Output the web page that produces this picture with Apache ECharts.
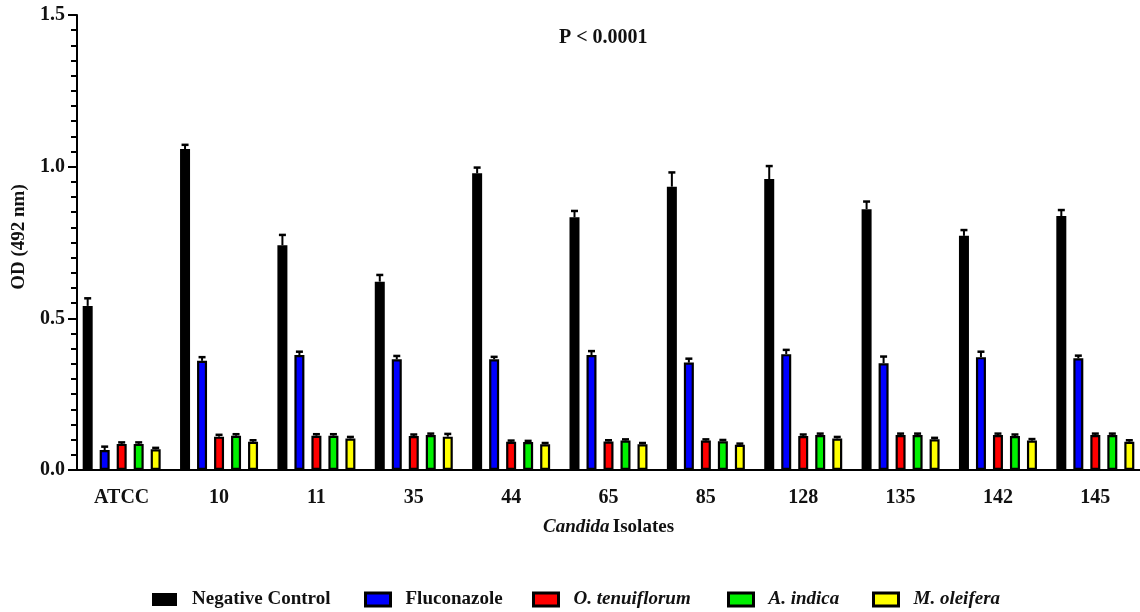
<!DOCTYPE html>
<html>
<head>
<meta charset="utf-8">
<script src="https://cdn.jsdelivr.net/npm/echarts@6/dist/echarts.min.js"></script>
<style>
  html, body { margin: 0; padding: 0; background: #fff; }
  #chart { width: 1140px; height: 612px; }
</style>
</head>
<body>
<div id="chart"></div>
<script>
// Candida isolates tested
const categories = ['ATCC', '10', '11', '35', '44', '65', '85', '128', '135', '142', '145'];

// Mean OD (492 nm) per treatment
const negativeControl = [0.541, 1.058, 0.741, 0.621, 0.978, 0.833, 0.934, 0.959, 0.860, 0.772, 0.837];
const fluconazole     = [0.066, 0.360, 0.379, 0.365, 0.365, 0.379, 0.354, 0.382, 0.352, 0.372, 0.368];
const oTenuiflorum    = [0.086, 0.110, 0.113, 0.112, 0.093, 0.094, 0.097, 0.112, 0.115, 0.115, 0.115];
const aIndica         = [0.086, 0.113, 0.113, 0.115, 0.092, 0.097, 0.095, 0.115, 0.115, 0.112, 0.115];
const mOleifera       = [0.068, 0.093, 0.104, 0.110, 0.085, 0.085, 0.083, 0.104, 0.101, 0.097, 0.093];

// Standard deviations (upper error bars)
const negativeControlSd = [0.025, 0.014, 0.034, 0.022, 0.019, 0.021, 0.047, 0.043, 0.025, 0.019, 0.020];
const fluconazoleSd     = [0.011, 0.012, 0.011, 0.011, 0.008, 0.013, 0.013, 0.014, 0.022, 0.018, 0.009];
const oTenuiflorumSd    = [0.005, 0.006, 0.005, 0.005, 0.004, 0.004, 0.004, 0.005, 0.005, 0.005, 0.005];
const aIndicaSd         = [0.005, 0.005, 0.005, 0.005, 0.004, 0.004, 0.004, 0.005, 0.005, 0.005, 0.005];
const mOleiferaSd       = [0.005, 0.005, 0.005, 0.009, 0.004, 0.004, 0.004, 0.005, 0.005, 0.005, 0.005];

// Y-axis ticks
const yMin = 0, yMax = 1.5, yStep = 0.5;

const treatments = [
  { name: 'Negative Control', values: negativeControl, sd: negativeControlSd, color: '#000000', italic: false },
  { name: 'Fluconazole',      values: fluconazole,     sd: fluconazoleSd,     color: '#0000ff', italic: false },
  { name: 'O. tenuiflorum',   values: oTenuiflorum,    sd: oTenuiflorumSd,    color: '#ff0000', italic: true },
  { name: 'A. indica',        values: aIndica,         sd: aIndicaSd,         color: '#00f000', italic: true },
  { name: 'M. oleifera',      values: mOleifera,       sd: mOleiferaSd,       color: '#ffff00', italic: true }
];

const FONT = '"Liberation Serif", "Times New Roman", serif';
const TEXT = '#111';
const BAR_W = 10;       // fill width; border adds the rest
const BAR_PITCH = 17;   // centre-to-centre distance of bars in a group
const legendLeft = [152, 364, 532, 727, 872];

const chart = echarts.init(document.getElementById('chart'), null, { renderer: 'canvas' });

const barSeries = treatments.map(t => ({
  name: t.name,
  type: 'bar',
  data: t.values,
  barWidth: BAR_W,
  barGap: ((BAR_PITCH - BAR_W) / BAR_W * 100) + '%',
  itemStyle: { color: t.color, borderColor: '#000', borderWidth: 2.2 },
  z: 3
}));

const errorSeries = treatments.map((t, si) => ({
  name: t.name + ' SD',
  type: 'custom',
  z: 2,
  data: t.values.map((v, i) => [i, v, t.sd[i]]),
  renderItem: function (params, api) {
    const idx = api.value(0);
    const v = api.value(1);
    const e = api.value(2);
    const base = api.coord([idx, v]);
    const top = api.coord([idx, v + e]);
    const x = base[0] + (si - 2) * BAR_PITCH;
    return {
      type: 'group',
      children: [
        { type: 'line', shape: { x1: x, y1: base[1], x2: x, y2: top[1] },
          style: { stroke: '#000', lineWidth: 2 } },
        { type: 'line', shape: { x1: x - 3.5, y1: top[1], x2: x + 3.5, y2: top[1] },
          style: { stroke: '#000', lineWidth: 2.5 } }
      ]
    };
  }
}));

const legends = treatments.map((t, i) => ({
  data: [t.name],
  left: legendLeft[i],
  top: 590,
  padding: 0,
  icon: 'rect',
  itemWidth: 25,
  itemHeight: 13,
  itemStyle: i === 0 ? { color: '#000', borderWidth: 0 } : { color: t.color, borderColor: '#000', borderWidth: 3 },
  selectedMode: false,
  formatter: name => t.italic ? '{i|' + name + '}' : '{b|' + name + '}',
  textStyle: {
    padding: [0, 0, 0, 10],
    rich: {
      b: { fontFamily: FONT, fontWeight: 'bold', fontSize: 19, color: TEXT },
      i: { fontFamily: FONT, fontWeight: 'bold', fontStyle: 'italic', fontSize: 19, color: TEXT }
    }
  }
}));

const option = {
  backgroundColor: '#ffffff',
  animation: false,
  title: {
    text: 'P < 0.0001',
    left: 559,
    top: 28,
    padding: 0,
    textStyle: { fontFamily: FONT, fontWeight: 'bold', fontSize: 20, color: TEXT }
  },
  legend: legends,
  grid: { left: 73, top: 15, width: 1071, height: 455, containLabel: false, outerBoundsMode: 'none' },
  xAxis: {
    type: 'category',
    data: categories,
    boundaryGap: true,
    axisLine: { lineStyle: { color: '#000', width: 2 } },
    axisTick: { alignWithLabel: true, length: 7, lineStyle: { color: '#000', width: 2 } },
    axisLabel: { fontFamily: FONT, fontWeight: 'bold', fontSize: 20, color: TEXT, margin: 18 },
    name: '{i|Candida} {b|Isolates}',
    nameLocation: 'middle',
    nameGap: 48,
    nameTextStyle: {
      rich: {
        i: { fontFamily: FONT, fontWeight: 'bold', fontStyle: 'italic', fontSize: 19, color: TEXT },
        b: { fontFamily: FONT, fontWeight: 'bold', fontSize: 19, color: TEXT }
      }
    }
  },
  yAxis: {
    type: 'value',
    min: yMin,
    max: yMax,
    interval: yStep,
    offset: -4,
    axisLine: { show: true, lineStyle: { color: '#000', width: 2 } },
    axisTick: { show: true, length: 9, lineStyle: { color: '#000', width: 2 } },
    minorTick: { show: true, splitNumber: 10, length: 6, lineStyle: { color: '#000', width: 2 } },
    splitLine: { show: false },
    axisLabel: {
      fontFamily: FONT, fontWeight: 'bold', fontSize: 20, color: TEXT, margin: 12,
      formatter: v => v.toFixed(1)
    }
  },
  graphic: [{
    type: 'text',
    x: 19,
    y: 237,
    rotation: Math.PI / 2,
    style: {
      text: 'OD (492 nm)',
      font: 'bold 19px ' + FONT,
      fill: TEXT,
      textAlign: 'center',
      textVerticalAlign: 'middle'
    }
  }],
  series: barSeries.concat(errorSeries)
};

chart.setOption(option);
</script>
</body>
</html>
